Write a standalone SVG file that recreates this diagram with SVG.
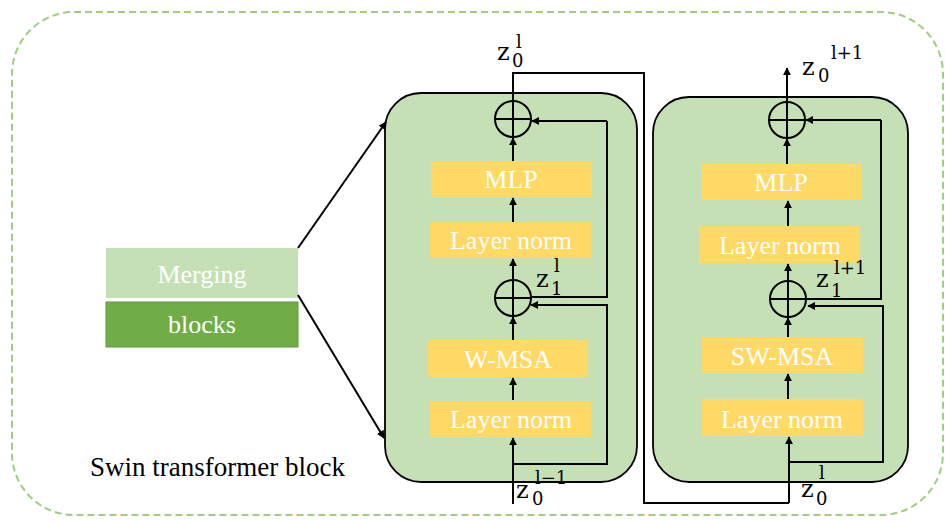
<svg xmlns="http://www.w3.org/2000/svg" width="945" height="521" viewBox="0 0 945 521">
<defs>
<marker id="ah" viewBox="0 0 10 10" refX="9" refY="5" markerWidth="8" markerHeight="8" markerUnits="userSpaceOnUse" orient="auto">
<path d="M0,0 L10,5 L0,10 z" fill="#000"/>
</marker>
</defs>
<style>
.outer{fill:none;stroke:#9fcd82;stroke-width:2;stroke-dasharray:7 4}
.blk{fill:#c5e0b4;stroke:#000;stroke-width:1.8}
.yb{fill:#ffd966}
.bt{font-family:"Liberation Serif","Times New Roman",serif;font-size:26px;fill:#fff;text-anchor:middle}
.lt{font-family:"Liberation Serif","Times New Roman",serif;font-size:27px;fill:#000}
.z{font-family:"DejaVu Serif",serif;font-size:24px;fill:#000}
.s{font-family:"DejaVu Serif",serif;font-size:18px;fill:#000}
.ln{fill:none;stroke:#000;stroke-width:2}
.ar{fill:none;stroke:#000;stroke-width:2;marker-end:url(#ah)}
.cir{fill:none;stroke:#000;stroke-width:2}
</style>
<rect class="outer" x="12" y="12" width="931" height="503" rx="62" ry="62"/>
<text class="lt" x="90" y="476">Swin transformer block</text>

<g id="merging">
<rect x="106" y="248" width="192" height="50" fill="#c5e0b4"/>
<text class="bt" x="202" y="283">Merging</text>
</g>
<g id="blocks">
<rect x="106" y="302" width="192" height="45" fill="#70ad47" stroke="#5f9b3a" stroke-width="1"/>
<text class="bt" x="202" y="333">blocks</text>
</g>

<g id="block1">
<rect class="blk" x="385" y="93" width="252" height="389" rx="36" ry="36"/>
</g>
<g id="block2">
<rect class="blk" x="653" y="97" width="255" height="385" rx="36" ry="36"/>
</g>

<g id="mlp1"><rect class="yb" x="431" y="161" width="161" height="36"/><text class="bt" x="511" y="188">MLP</text></g>
<g id="ln1a"><rect class="yb" x="430" y="222" width="161" height="36"/><text class="bt" x="511" y="249">Layer norm</text></g>
<g id="wmsa"><rect class="yb" x="428" y="340" width="160" height="37"/><text class="bt" x="508" y="368">W-MSA</text></g>
<g id="ln1b"><rect class="yb" x="430" y="401" width="161" height="36"/><text class="bt" x="511" y="428">Layer norm</text></g>
<g id="add1a"><circle class="cir" cx="513" cy="119" r="18"/><path class="ln" d="M495,119 H531 M513,101 V137"/></g>
<g id="add1b"><circle class="cir" cx="513" cy="298" r="18"/><path class="ln" d="M495,298 H531 M513,280 V316"/></g>

<g id="mlp2"><rect class="yb" x="701" y="164" width="161" height="36"/><text class="bt" x="781" y="191">MLP</text></g>
<g id="ln2a"><rect class="yb" x="699" y="226" width="161" height="37"/><text class="bt" x="780" y="254">Layer norm</text></g>
<g id="swmsa"><rect class="yb" x="702" y="337" width="161" height="36"/><text class="bt" x="782" y="365">SW-MSA</text></g>
<g id="ln2b"><rect class="yb" x="702" y="399" width="161" height="37"/><text class="bt" x="782" y="428">Layer norm</text></g>
<g id="add2a"><circle class="cir" cx="787" cy="120" r="18"/><path class="ln" d="M769,120 H805 M787,102 V138"/></g>
<g id="add2b"><circle class="cir" cx="788" cy="299" r="18"/><path class="ln" d="M770,299 H806 M788,281 V317"/></g>

<g id="labels">
<text class="z" x="497" y="60">z</text>
<text class="s" x="512" y="67">0</text>
<text class="s" x="516" y="48">l</text>

<text class="z" x="536" y="287">z</text>
<text class="s" x="551" y="295">1</text>
<text class="s" x="554" y="272">l</text>

<text class="z" x="516" y="498">z</text>
<text class="s" x="532" y="505">0</text>
<text class="s" x="535" y="484">l−1</text>

<text class="z" x="802" y="75">z</text>
<text class="s" x="818" y="82">0</text>
<text class="s" x="831" y="59">l+1</text>

<text class="z" x="816" y="287">z</text>
<text class="s" x="831" y="297">1</text>
<text class="s" x="834" y="274">l+1</text>

<text class="z" x="801" y="497">z</text>
<text class="s" x="816" y="505">0</text>
<text class="s" x="819" y="479">l</text>
</g>

<g id="connectors">
<path class="ar" d="M298,248 L386,122"/>
<path class="ar" d="M298,295 L384,438"/>

<path class="ar" d="M513,504 V438"/>
<path class="ar" d="M513,400 V378"/>
<path class="ar" d="M513,340 V317"/>
<path class="ar" d="M513,280 V259"/>
<path class="ar" d="M513,222 V198"/>
<path class="ar" d="M513,161 V138"/>
<path class="ln" d="M513,464 H607 V305 H540"/>
<path class="ar" d="M545,305 H531"/>
<path class="ln" d="M531,297 H607 V121"/>
<path class="ar" d="M607,121 H532"/>
<path class="ln" d="M513,101 V73 H644 V503 H789"/>

<path class="ar" d="M789,503 V437"/>
<path class="ar" d="M788,399 V374"/>
<path class="ar" d="M788,337 V318"/>
<path class="ar" d="M788,281 V264"/>
<path class="ar" d="M788,226 V201"/>
<path class="ar" d="M787,164 V139"/>
<path class="ar" d="M787,102 V68"/>
<path class="ln" d="M789,462 H883 V306 H820"/>
<path class="ar" d="M825,306 H808"/>
<path class="ln" d="M806,299 H881 V120"/>
<path class="ar" d="M881,120 H806"/>
</g>
</svg>
